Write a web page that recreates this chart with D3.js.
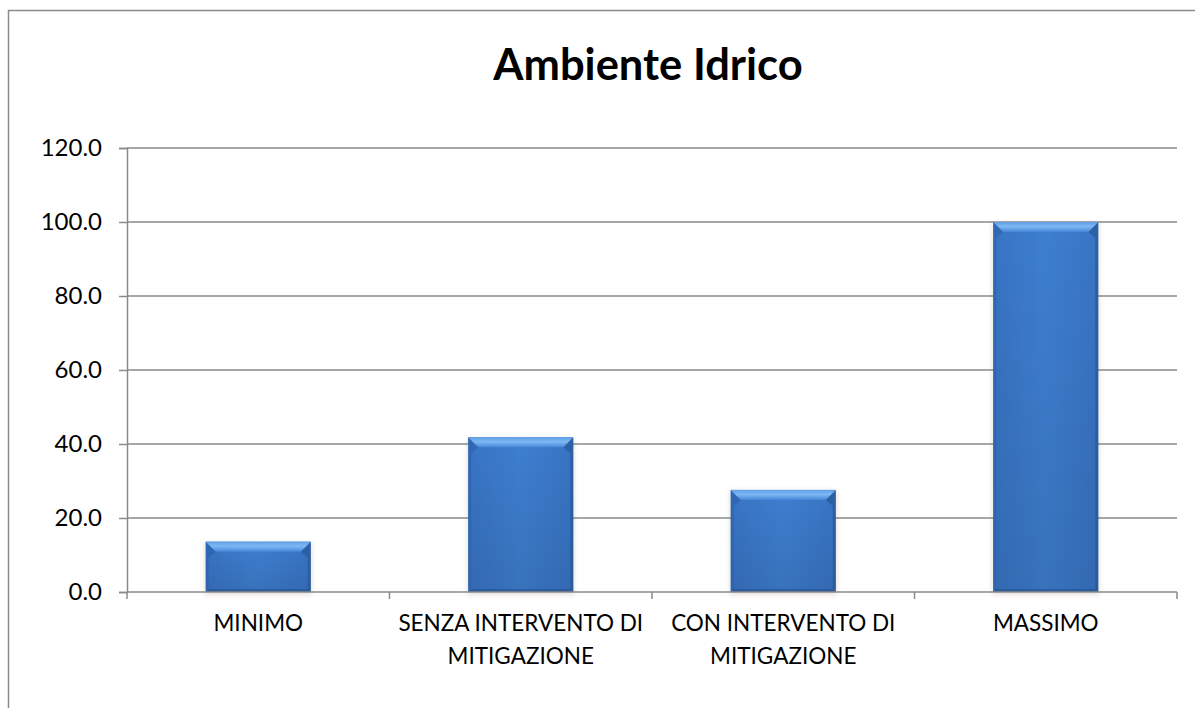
<!DOCTYPE html>
<html>
<head>
<meta charset="utf-8">
<script src="https://cdn.jsdelivr.net/npm/d3@7"></script>
<style>
  html, body { margin: 0; padding: 0; background: #fff; }
  svg { display: block; }
  text { font-family: Lato, "Open Sans", sans-serif; fill: #000; }
</style>
</head>
<body>
<svg id="chart" width="1195" height="708"></svg>
<script>
// Chart data
const title = "Ambiente Idrico";
const categories = ["MINIMO", "SENZA INTERVENTO DI MITIGAZIONE", "CON INTERVENTO DI MITIGAZIONE", "MASSIMO"];
const categoryLines = [["MINIMO"], ["SENZA INTERVENTO DI", "MITIGAZIONE"], ["CON INTERVENTO DI", "MITIGAZIONE"], ["MASSIMO"]];
const values = [13.6, 41.8, 27.6, 100.0];
const yTicks = [0, 20, 40, 60, 80, 100, 120];

const svg = d3.select("#chart");
const plot = { left: 127, right: 1177, top: 148, bottom: 592 };
const gridColor = "#8a8a8a";

// outer frame of the chart area
svg.append("rect")
  .attr("x", 8.5).attr("y", 10.5)
  .attr("width", 1300).attr("height", 800)
  .attr("fill", "none").attr("stroke", gridColor).attr("stroke-width", 1.5);

const x = d3.scaleBand()
  .domain(categories)
  .range([plot.left, plot.right])
  .paddingInner(0.6).paddingOuter(0.3);

const y = d3.scaleLinear().domain([0, 120]).range([plot.bottom, plot.top]);

// title
svg.append("text")
  .attr("x", 648).attr("y", 80)
  .attr("text-anchor", "middle")
  .attr("font-size", 43.5).attr("font-weight", "bold")
  .text(title);

// horizontal gridlines
svg.append("g").selectAll("line").data(yTicks.filter(d => d > 0)).join("line")
  .attr("x1", plot.left).attr("x2", plot.right)
  .attr("y1", d => y(d)).attr("y2", d => y(d))
  .attr("stroke", gridColor).attr("stroke-width", 1.5);

// y axis
const yAxis = svg.append("g")
  .attr("transform", `translate(${plot.left},0)`)
  .call(d3.axisLeft(y).tickValues(yTicks).tickFormat(d3.format(".1f")).tickSize(8).tickPadding(17));
yAxis.select(".domain").attr("stroke", gridColor).attr("stroke-width", 1.5);
yAxis.selectAll(".tick line").attr("stroke", gridColor).attr("stroke-width", 1.5);
yAxis.selectAll(".tick text")
  .attr("font-size", 24).attr("font-family", "Lato, 'Open Sans', sans-serif").attr("fill", "#000");

// defs for bar shading
const defs = svg.append("defs");
const body = defs.append("linearGradient").attr("id", "barBody").attr("x1", 0).attr("x2", 1).attr("y1", 0).attr("y2", 0);
body.append("stop").attr("offset", "0%").attr("stop-color", "#3874c4");
body.append("stop").attr("offset", "50%").attr("stop-color", "#3e7fd0");
body.append("stop").attr("offset", "100%").attr("stop-color", "#3874c4");
const topBev = defs.append("linearGradient").attr("id", "barTop").attr("x1", 0).attr("x2", 0).attr("y1", 0).attr("y2", 1);
topBev.append("stop").attr("offset", "0%").attr("stop-color", "#5f9fe6");
topBev.append("stop").attr("offset", "45%").attr("stop-color", "#7db8f4");
topBev.append("stop").attr("offset", "100%").attr("stop-color", "#4686d6");
const shade = defs.append("linearGradient").attr("id", "barShade").attr("x1", 0).attr("x2", 0).attr("y1", 0).attr("y2", 1);
shade.append("stop").attr("offset", "0%").attr("stop-color", "#000").attr("stop-opacity", 0);
shade.append("stop").attr("offset", "100%").attr("stop-color", "#000").attr("stop-opacity", 0.1);
const blur = defs.append("filter").attr("id", "barShadow").attr("x", "-20%").attr("y", "-20%").attr("width", "140%").attr("height", "140%");
blur.append("feGaussianBlur").attr("stdDeviation", 2.5);

const bev = 10;
const bars = svg.append("g").selectAll("g").data(values).join("g");

// soft shadow behind each bar
bars.append("rect")
  .attr("x", (d, i) => x(categories[i]) - 1)
  .attr("y", d => y(d) + 1)
  .attr("width", x.bandwidth() + 2)
  .attr("height", d => plot.bottom - y(d) + 2)
  .attr("fill", "#7d6a5a").attr("opacity", 0.2)
  .attr("filter", "url(#barShadow)");

bars.append("rect")
  .attr("x", (d, i) => x(categories[i]))
  .attr("y", d => y(d))
  .attr("width", x.bandwidth())
  .attr("height", d => plot.bottom - y(d))
  .attr("fill", "url(#barBody)");

bars.append("rect")
  .attr("x", (d, i) => x(categories[i]))
  .attr("y", d => y(d))
  .attr("width", x.bandwidth())
  .attr("height", d => plot.bottom - y(d))
  .attr("fill", "url(#barShade)");

// bevel facets
function facet(d, i, kind) {
  const x0 = x(categories[i]), x1 = x0 + x.bandwidth();
  const y0 = y(d), y1 = plot.bottom;
  const b = Math.min(bev, (y1 - y0) / 2);
  const s = 3; // narrower side and bottom facets
  const pts = {
    top: [[x0, y0], [x1, y0], [x1 - b, y0 + b], [x0 + b, y0 + b]],
    left: [[x0, y0], [x0 + b, y0 + b], [x0 + s, y0 + b + 6], [x0 + s, y1 - s], [x0, y1]],
    right: [[x1, y0], [x1, y1], [x1 - s, y1 - s], [x1 - s, y0 + b + 6], [x1 - b, y0 + b]],
    bottom: [[x0, y1], [x0 + s, y1 - s], [x1 - s, y1 - s], [x1, y1]]
  }[kind];
  return "M" + pts.map(p => p.join(",")).join("L") + "Z";
}
bars.append("path").attr("d", (d, i) => facet(d, i, "left")).attr("fill", "#2d62ad").attr("opacity", 0.7);
bars.append("path").attr("d", (d, i) => facet(d, i, "right")).attr("fill", "#24548f").attr("opacity", 0.6);
bars.append("path").attr("d", (d, i) => facet(d, i, "bottom")).attr("fill", "#24508c").attr("opacity", 0.6);
bars.append("path").attr("d", (d, i) => facet(d, i, "top")).attr("fill", "url(#barTop)");

// x axis line and category boundary ticks
svg.append("line")
  .attr("x1", plot.left).attr("x2", plot.right)
  .attr("y1", plot.bottom).attr("y2", plot.bottom)
  .attr("stroke", gridColor).attr("stroke-width", 1.5);
const boundaries = d3.range(categories.length + 1).map(i => plot.left + i * x.step());
svg.append("g").selectAll("line").data(boundaries).join("line")
  .attr("x1", d => d).attr("x2", d => d)
  .attr("y1", plot.bottom).attr("y2", plot.bottom + 7)
  .attr("stroke", gridColor).attr("stroke-width", 1.5);

// category labels
const labels = svg.append("g").selectAll("text").data(categories).join("text")
  .attr("text-anchor", "middle")
  .attr("font-size", 22.5)
  .attr("transform", d => `translate(${x(d) + x.bandwidth() / 2},631)`);
labels.selectAll("tspan").data((d, i) => categoryLines[i]).join("tspan")
  .attr("x", 0).attr("y", (d, j) => j * 33)
  .text(d => d);
</script>
</body>
</html>
